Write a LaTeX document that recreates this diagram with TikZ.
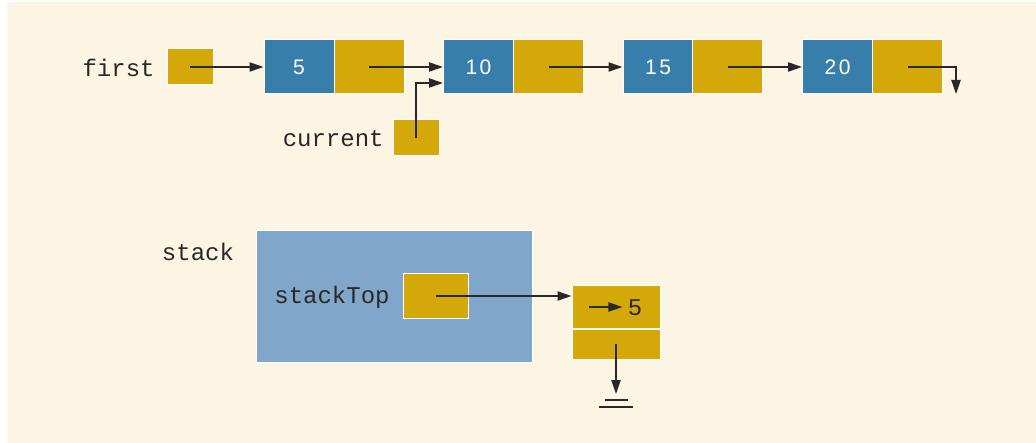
\documentclass[tikz,border=0pt]{standalone}
\usepackage{fontspec}
\setmonofont{Liberation Mono}
\newfontfamily\digitfont[LetterSpace=12]{Liberation Sans}
\usepackage{tikz}
\usetikzlibrary{arrows.meta, positioning, calc}
\usepackage{xcolor}
\definecolor{lsbg}{RGB}{253, 245, 227}
\definecolor{lsdata}{RGB}{55, 127, 170}
\definecolor{lslink}{RGB}{212, 168, 8}
\definecolor{lsstack}{RGB}{128, 167, 201}
\definecolor{lstext}{RGB}{40, 40, 40}

\begin{document}
\begin{tikzpicture}[
  x=0.5pt, y=-0.5pt,
  data/.style={rectangle, draw=white, line width=0.5pt, fill=lsdata, minimum width=35pt, minimum height=27pt, inner sep=0pt, font=\digitfont\fontsize{10.5}{12}\selectfont, text=white},
  link/.style={rectangle, draw=white, line width=0.5pt, fill=lslink, minimum width=35pt, minimum height=27pt, inner sep=0pt},
  ptr/.style={rectangle, draw=white, line width=0.5pt, fill=lslink, minimum width=23pt, minimum height=18pt, inner sep=0pt},
  lbl/.style={font=\ttfamily\fontsize{12}{14}\selectfont, text=lstext, inner sep=0pt},
  arr/.style={-{Triangle[length=7pt, width=4.6pt]}, color=lstext, line width=0.75pt}
]
% background
\fill[lsbg] (7,2) rectangle (1036,443);
\useasboundingbox (0,0) rectangle (1036,443);

% linked list
\node[lbl, anchor=east] (firstlbl) at (155,68) {first};
\node[ptr] (first) at (190,67) {};

\node[data] (d5) at (299,67) {5};
\node[link] (l5) at (369,67) {};
\node[data] (d10) at (478.5,67) {10};
\node[link] (l10) at (548.5,67) {};
\node[data] (d15) at (658,67) {15};
\node[link] (l15) at (727.5,67) {};
\node[data] (d20) at (837.5,67) {20};
\node[link] (l20) at (907.5,67) {};
\coordinate (nil20) at (956,94);

\node[lbl, anchor=east] (curlbl) at (384,139) {current};
\node[ptr] (cur) at (416,138) {};

\draw[arr] (first.center) -- (d5.west);
\draw[arr] (l5.center) -- (d10.west);
\draw[arr] (l10.center) -- (d15.west);
\draw[arr] (l15.center) -- (d20.west);
\draw[arr] (l20.center) -| (nil20);
\draw[arr] (cur.center) |- ([yshift=-8pt]d10.west);

% stack
\node[lbl] (stacklbl) at (198,252) {stack};
\node[rectangle, draw=white, line width=0.5pt, fill=lsstack, minimum width=138pt, minimum height=66pt] (stack) at (394,296) {};
\node[lbl, anchor=east] (toplbl) at (390,297) {stackTop};
\node[ptr, minimum width=32.5pt, minimum height=22.5pt] (stacktop) at (435.5,296) {};

\node[link, minimum width=44pt, minimum height=21.5pt] (top) at (616,306.5) {};
\node[link, minimum width=44pt, minimum height=15pt] (bot) at (616,344) {};
\node[lbl] (five) at (635,308) {5};
\coordinate (info) at (589,307);
\coordinate (nilbot) at (616,394);

\draw[arr] (stacktop.center) -- (stacktop.center -| top.west);
\draw[arr, shorten >=2.5pt] (info) -- (info -| five.west);
\draw[arr] (bot.center) -- (nilbot);
\draw[lstext, line width=0.75pt] (605,400) -- (628,400);
\draw[lstext, line width=0.75pt] (599,407) -- (633,407);

\end{tikzpicture}
\end{document}
